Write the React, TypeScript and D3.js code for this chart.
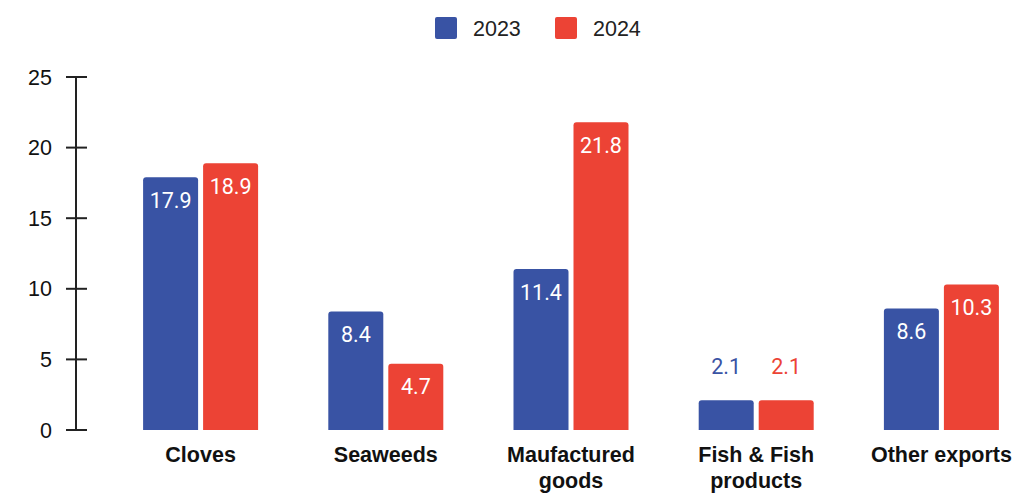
import React from "react";
import * as d3 from "d3";

const categories = ["Cloves", "Seaweeds", "Maufactured goods", "Fish & Fish products", "Other exports"];
const categoryLines = [["Cloves"], ["Seaweeds"], ["Maufactured", "goods"], ["Fish & Fish", "products"], ["Other exports"]];
const series2023 = [17.9, 8.4, 11.4, 2.1, 8.6];
const series2024 = [18.9, 4.7, 21.8, 2.1, 10.3];
const seriesNames = ["2023", "2024"];
const colors = ["#3953A4", "#EC4335"];
const yTicks = [0, 5, 10, 15, 20, 25];

const W = 1012, H = 494;

function roundedTopBar(x: number, y: number, w: number, h: number, r: number) {
  const rr = Math.min(r, h / 2, w / 2);
  return `M${x},${y + h}V${y + rr}Q${x},${y} ${x + rr},${y}H${x + w - rr}Q${x + w},${y} ${x + w},${y + rr}V${y + h}Z`;
}

export default function App() {
  const y = d3.scaleLinear().domain([0, 25]).range([430, 77]);
  const x0 = d3.scaleBand<string>().domain(categories).range([108, 1034]).padding(0);
  const barW = 55, gap = 5;
  const data = [series2023, series2024];
  const axisFont = "'Liberation Sans', Arial, sans-serif";
  const fs = 21.5;
  return (
    <svg width={W} height={H} style={{ position: "absolute", left: 0, top: 0, background: "#fff" }}>
      {/* legend */}
      {seriesNames.map((s, i) => {
        const lx = i === 0 ? 435 : 555;
        return (
          <g key={s}>
            <rect x={lx} y={17} width={22} height={22} rx={2} fill={colors[i]} />
            <text x={lx + 38} y={36} fontSize={fs} fontFamily={axisFont} fill="#222">{s}</text>
          </g>
        );
      })}
      {/* y axis */}
      <line x1={76} x2={76} y1={y(25)} y2={y(0)} stroke="#222" strokeWidth={2} />
      {yTicks.map((t) => (
        <g key={t}>
          <line x1={66} x2={87} y1={y(t)} y2={y(t)} stroke="#222" strokeWidth={2} />
          <text x={52} y={y(t)} dy="0.35em" textAnchor="end" fontSize={fs} fontFamily={axisFont} fill="#111">{t}</text>
        </g>
      ))}
      {/* bars */}
      {categories.map((c, ci) => {
        const cx = x0(c)! + x0.bandwidth() / 2;
        return (
          <g key={c}>
            {data.map((vals, si) => {
              const v = vals[ci];
              const bx = si === 0 ? cx - gap / 2 - barW : cx + gap / 2;
              const top = y(v);
              const h = y(0) - top;
              const inside = h > 40;
              return (
                <g key={si}>
                  <path d={roundedTopBar(bx, top, barW, h, 3)} fill={colors[si]} />
                  <text
                    x={bx + barW / 2}
                    y={inside ? top + 23 : top - 34}
                    dy="0.35em"
                    textAnchor="middle"
                    fontSize={fs}
                    fontFamily="Roboto, sans-serif"
                    fill={inside ? "#fff" : colors[si]}
                  >
                    {v.toFixed(1)}
                  </text>
                </g>
              );
            })}
            {categoryLines[ci].map((ln, li) => (
              <text key={li} x={cx} y={462 + li * 26} textAnchor="middle" fontSize={fs} fontWeight="bold" fontFamily={axisFont} fill="#111">
                {ln}
              </text>
            ))}
          </g>
        );
      })}
    </svg>
  );
}
